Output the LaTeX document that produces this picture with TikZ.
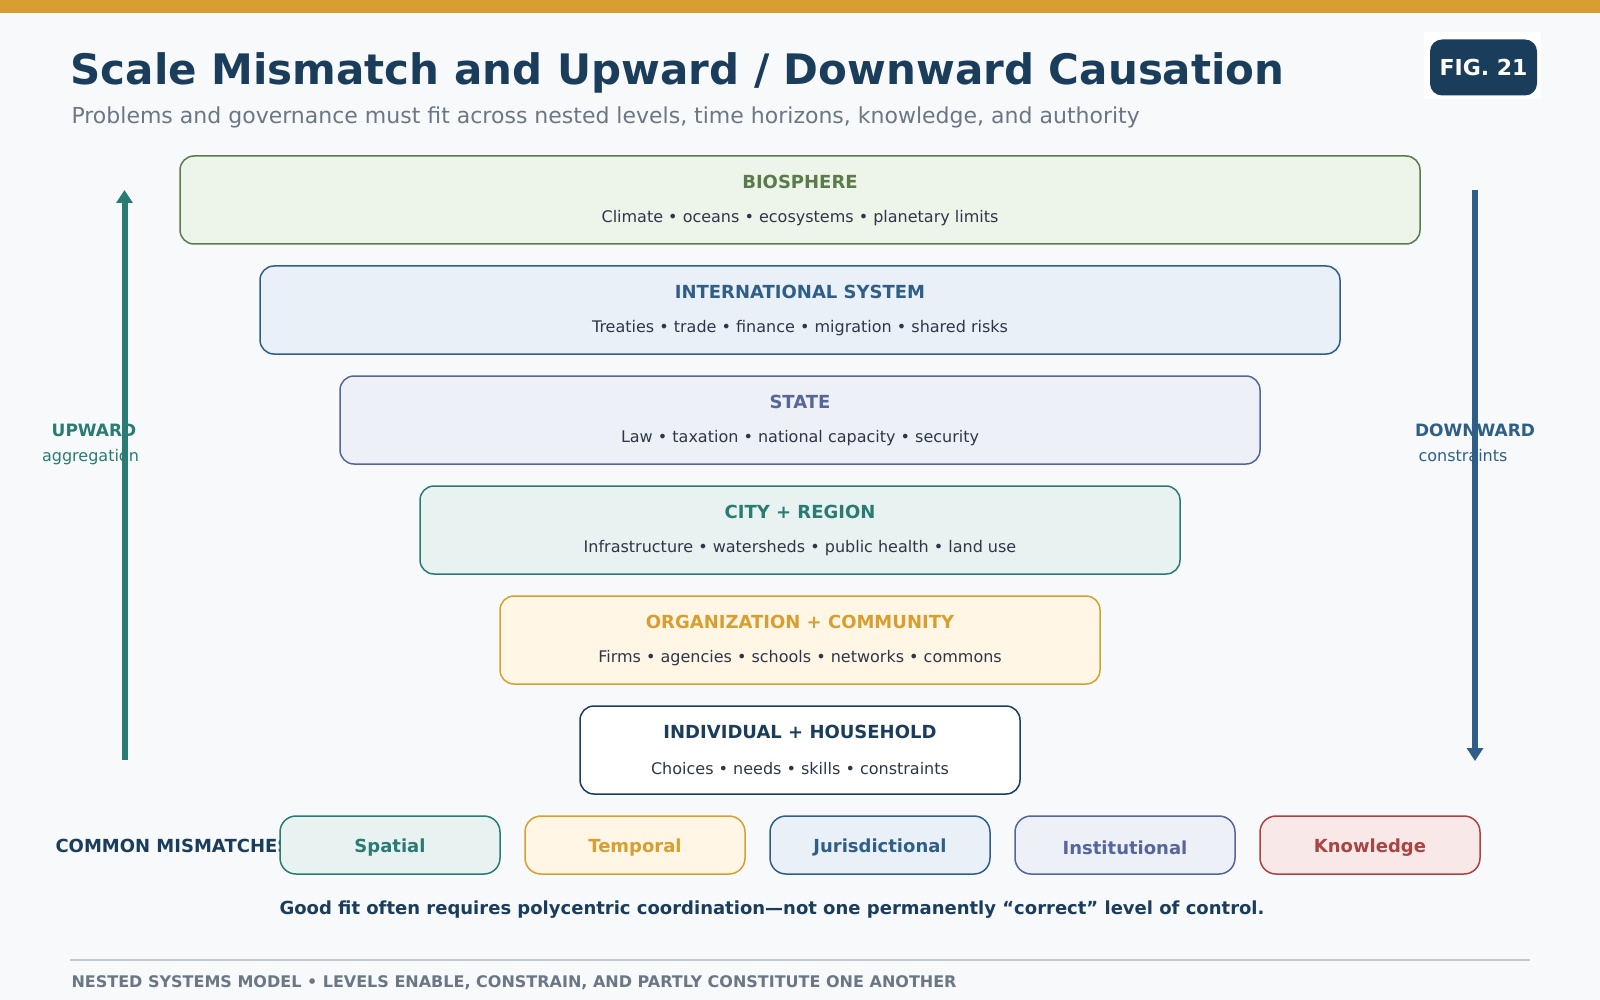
\documentclass[tikz,border=0pt]{standalone}
\usepackage{fontspec}
\setmainfont{DejaVu Sans}
\usetikzlibrary{positioning,arrows.meta}

\definecolor{pagebg}{HTML}{F7F9FB}
\definecolor{gold}{HTML}{D89F30}
\definecolor{navy}{HTML}{1B3D5C}
\definecolor{greytext}{HTML}{6B7785}
\definecolor{subtext}{HTML}{2D3748}
\definecolor{rulegrey}{HTML}{C0CAD5}
\definecolor{bioC}{HTML}{5B7B4B}
\definecolor{bioF}{HTML}{EDF4EA}
\definecolor{blueC}{HTML}{2F5F88}
\definecolor{blueF}{HTML}{E9F0F7}
\definecolor{slateC}{HTML}{56659A}
\definecolor{slateF}{HTML}{EDF0F7}
\definecolor{tealC}{HTML}{2A7B74}
\definecolor{tealF}{HTML}{E8F2F0}
\definecolor{goldF}{HTML}{FFF6E5}
\definecolor{redC}{HTML}{A94442}
\definecolor{redF}{HTML}{F8E8E8}

\begin{document}
\begin{tikzpicture}[x=1pt,y=-1pt,
lvl/.style={draw, rounded corners=14pt, line width=1.5pt, minimum height=88pt, inner sep=0pt},
lvltitle/.style={anchor=base, font=\fontsize{18}{20}\selectfont\bfseries},
lvlsub/.style={anchor=base, text=subtext, font=\fontsize{16}{18}\selectfont},
mis/.style={draw, rounded corners=16pt, line width=1.5pt, minimum width=220pt, minimum height=58pt, inner sep=0pt, text height=14pt, text depth=0pt, font=\fontsize{18}{20}\selectfont\bfseries},
flow/.style={line width=6pt, -{Triangle[width=16pt,length=13pt]}}]
\useasboundingbox (0,0) rectangle (1600,1000);
\fill[pagebg] (0,0) rectangle (1600,1000);
\fill[gold] (0,0) rectangle (1600,13);

% heading
\node[anchor=base west, text=navy, font=\fontsize{42}{48}\selectfont\bfseries] (title) at (67,85) {Scale Mismatch and Upward / Downward Causation};
\node[anchor=base west, text=greytext, font=\fontsize{22}{26}\selectfont] (subtitle) at (68,124) {Problems and governance must fit across nested levels, time horizons, knowledge, and authority};
\fill[white] (1424,32) rectangle (1541,99);
\node[fill=navy, rounded corners=12pt, minimum width=107pt, minimum height=56pt, text=white, font=\fontsize{22}{24}\selectfont\bfseries] (fig) at (1483.5,67.5) {FIG. 21};

% nested levels
\node[lvl, draw=bioC, fill=bioF, minimum width=1240pt] (bio) at (800,200) {};
\node[lvl, draw=blueC, fill=blueF, minimum width=1080pt, below=20.5pt of bio] (intl) {};
\node[lvl, draw=slateC, fill=slateF, minimum width=920pt, below=20.5pt of intl] (state) {};
\node[lvl, draw=tealC, fill=tealF, minimum width=760pt, below=20.5pt of state] (city) {};
\node[lvl, draw=gold, fill=goldF, minimum width=600pt, below=20.5pt of city] (org) {};
\node[lvl, draw=navy, fill=white, minimum width=440pt, below=20.5pt of org] (indiv) {};

\node[lvltitle, text=bioC] (bioT) at ([yshift=-33pt]bio.north) {BIOSPHERE};
\node[lvlsub] (bioS) at ([yshift=-67pt]bio.north) {Climate • oceans • ecosystems • planetary limits};
\node[lvltitle, text=blueC] (intlT) at ([yshift=-33pt]intl.north) {INTERNATIONAL SYSTEM};
\node[lvlsub] (intlS) at ([yshift=-67pt]intl.north) {Treaties • trade • finance • migration • shared risks};
\node[lvltitle, text=slateC] (stateT) at ([yshift=-33pt]state.north) {STATE};
\node[lvlsub] (stateS) at ([yshift=-67pt]state.north) {Law • taxation • national capacity • security};
\node[lvltitle, text=tealC] (cityT) at ([yshift=-33pt]city.north) {CITY + REGION};
\node[lvlsub] (cityS) at ([yshift=-67pt]city.north) {Infrastructure • watersheds • public health • land use};
\node[lvltitle, text=gold] (orgT) at ([yshift=-33pt]org.north) {ORGANIZATION + COMMUNITY};
\node[lvlsub] (orgS) at ([yshift=-67pt]org.north) {Firms • agencies • schools • networks • commons};
\node[lvltitle, text=navy] (indivT) at ([yshift=-33pt]indiv.north) {INDIVIDUAL + HOUSEHOLD};
\node[lvlsub] (indivS) at ([yshift=-69pt]indiv.north) {Choices • needs • skills • constraints};

% side arrows
\node[anchor=base, text=tealC, font=\fontsize{17}{20}\selectfont\bfseries] (upL) at (94,436) {UPWARD};
\node[anchor=base, text=tealC, font=\fontsize{16}{18}\selectfont] (upS) at (90.5,461) {aggregation};
\node[anchor=base, text=blueC, font=\fontsize{17}{20}\selectfont\bfseries] (downL) at (1475,436) {DOWNWARD};
\node[anchor=base, text=blueC, font=\fontsize{16}{18}\selectfont] (downS) at (1463,461) {constraints};
\coordinate (upA) at (124.5,760);
\coordinate (upB) at (124.5,190);
\coordinate (downA) at (1475,190);
\coordinate (downB) at (1475,761);
\draw[flow, tealC] (upA) -- (upB);
\draw[flow, blueC] (downA) -- (downB);

% mismatches
\node[anchor=base west, text=navy, font=\fontsize{18}{20}\selectfont\bfseries] (common) at (52,852) {COMMON MISMATCHES};
\node[mis, draw=tealC, fill=tealF, text=tealC] (spatial) at (390,845) {Spatial};
\node[mis, draw=gold, fill=goldF, text=gold, right=23.5pt of spatial] (temporal) {Temporal};
\node[mis, draw=blueC, fill=blueF, text=blueC, right=23.5pt of temporal] (juris) {Jurisdictional};
\node[mis, draw=slateC, fill=slateF, text=slateC, right=23.5pt of juris] (instit) {\raisebox{-2pt}{Institutional}};
\node[mis, draw=redC, fill=redF, text=redC, right=23.5pt of instit] (know) {Knowledge};

\node[anchor=base, text=navy, font=\fontsize{18}{20}\selectfont\bfseries] (fit) at (772,914) {Good fit often requires polycentric coordination—not one permanently “correct” level of control.};

% footer
\draw[rulegrey, line width=2pt] (70,960) -- (1530,960);
\node[anchor=base west, text=greytext, font=\fontsize{16}{18}\selectfont\bfseries] (footer) at (68,987) {NESTED SYSTEMS MODEL • LEVELS ENABLE, CONSTRAIN, AND PARTLY CONSTITUTE ONE ANOTHER};
\end{tikzpicture}
\end{document}
